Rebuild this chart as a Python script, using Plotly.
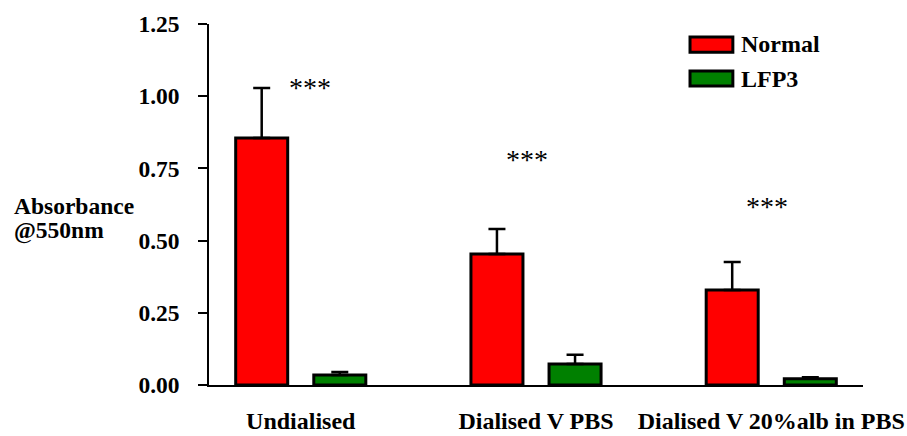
import plotly.graph_objects as go

categories = ["Undialised", "Dialised V PBS", "Dialised V 20%alb in PBS"]
normal_values = [0.855, 0.454, 0.329]
normal_err = [0.173, 0.086, 0.097]
lfp3_values = [0.035, 0.073, 0.022]
lfp3_err = [0.010, 0.032, 0.005]
series_names = ["Normal", "LFP3"]
y_ticks = [0.0, 0.25, 0.5, 0.75, 1.0, 1.25]
star_labels = ["***", "***", "***"]
star_y = [1.03, 0.78, 0.617]
y_title_lines = ["Absorbance", "@550nm"]

FONT = "Liberation Serif"
xpos = list(range(len(categories)))

fig = go.Figure()
fig.add_trace(go.Bar(
    x=xpos, y=normal_values, name=series_names[0],
    marker=dict(color="#ff0000", line=dict(color="black", width=3)),
    error_y=dict(type="data", array=normal_err, arrayminus=[0] * 3, symmetric=False,
                 color="black", thickness=2.5, width=8.5),
))
fig.add_trace(go.Bar(
    x=xpos, y=lfp3_values, name=series_names[1],
    marker=dict(color="#008000", line=dict(color="black", width=3)),
    error_y=dict(type="data", array=lfp3_err, arrayminus=[0] * 3, symmetric=False,
                 color="black", thickness=2.5, width=8.5),
))

# significance stars
for i, (s, yv) in enumerate(zip(star_labels, star_y)):
    fig.add_annotation(x=xpos[i] + [0.04, -0.04, -0.02][i], y=yv, text=s, showarrow=False,
                       font=dict(family=FONT, size=28, color="black"), xref="x", yref="y")

# y axis title (two lines, tight spacing)
for line, py in zip(y_title_lines, [0.4958, 0.4266]):
    fig.add_annotation(x=-0.301, y=py, xref="paper", yref="paper", xanchor="left",
                       yanchor="middle", align="left", showarrow=False, text=line,
                       font=dict(family=FONT, size=23.5, color="black", weight="bold"))

# legend (manual)
colors = ["#ff0000", "#008000"]
box_y = [(0.922, 0.964), (0.828, 0.870)]
txt_y = [0.9446, 0.8476]
for name, c, (y0, y1), ty in zip(series_names, colors, box_y, txt_y):
    fig.add_shape(type="rect", xref="paper", yref="paper", x0=0.7355, x1=0.801, y0=y0, y1=y1,
                  fillcolor=c, line=dict(color="black", width=3))
    fig.add_annotation(x=0.8105, y=ty, xref="paper", yref="paper", xanchor="left",
                       yanchor="middle", showarrow=False, text=name,
                       font=dict(family=FONT, size=24, color="black", weight="bold"))

fig.update_layout(
    width=907, height=436,
    margin=dict(l=209, r=44, t=24, b=51),
    plot_bgcolor="white", paper_bgcolor="white",
    barmode="group", bargap=0.336, bargroupgap=0.334,
    showlegend=False,
    font=dict(family=FONT, color="black"),
)
fig.update_xaxes(
    range=[-0.39, 2.39], tickvals=xpos, ticktext=categories,
    showline=True, linecolor="black", linewidth=1.5, ticks="", showgrid=False,
    zeroline=False, ticklabelstandoff=13, automargin=False,
    tickfont=dict(family=FONT, size=24, color="black", weight="bold"),
)
fig.update_yaxes(
    range=[0, 1.25], tickvals=y_ticks, tickformat=".2f",
    showline=True, linecolor="black", linewidth=1.5, ticks="outside", ticklen=9,
    tickwidth=1.5, tickcolor="black", showgrid=False, zeroline=False,
    ticklabelstandoff=14, automargin=False,
    tickfont=dict(family=FONT, size=23.5, color="black", weight="bold"),
)

fig.write_html("out.html")
